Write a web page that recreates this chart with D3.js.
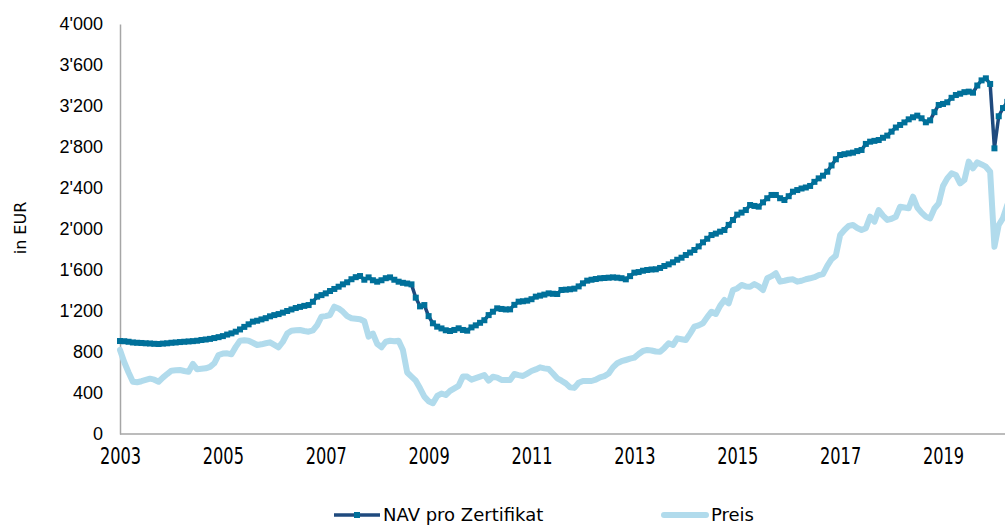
<!DOCTYPE html>
<html>
<head>
<meta charset="utf-8">
<script src="https://cdn.jsdelivr.net/npm/d3@7"></script>
<style>
    body { margin: 0; background: #fff; }
    svg { display: block; font-family: "DejaVu Sans", sans-serif; }
</style>
</head>
<body>
<div id="chart"></div>
<script>
// monthly values, first point = start of 2003
var tickYears = ['2003', '2005', '2007', '2009', '2011', '2013', '2015', '2017', '2019'];
var yTicks = [0, 400, 800, 1200, 1600, 2000, 2400, 2800, 3200, 3600, 4000];

var navValues = [
    907, 905, 900, 893, 890, 888, 885, 883, 880, 878, 882, 885,
    890, 893, 897, 900, 903, 906, 910, 917, 922, 928, 936, 945,
    955, 970, 982, 998, 1020, 1045, 1070, 1096, 1105, 1118, 1130, 1148,
    1160, 1170, 1184, 1200, 1215, 1229, 1240, 1250, 1258, 1290, 1340, 1355,
    1372, 1395, 1415, 1437, 1460, 1480, 1510, 1530, 1541, 1505, 1528, 1500,
    1486, 1500, 1520, 1528, 1505, 1486, 1475, 1468, 1460, 1330, 1245, 1258,
    1150, 1080, 1047, 1030, 1012, 1005, 1015, 1031, 1015, 1008, 1040, 1060,
    1085, 1110, 1160, 1193, 1226, 1220, 1215, 1216, 1260, 1291, 1295, 1301,
    1315, 1340, 1350, 1360, 1372, 1368, 1366, 1405, 1408, 1412, 1418, 1440,
    1470, 1496, 1505, 1512, 1519, 1522, 1525, 1528, 1525, 1520, 1509, 1540,
    1574, 1580, 1593, 1600, 1605, 1607, 1620, 1639, 1655, 1675, 1700, 1720,
    1746, 1770, 1795, 1830, 1870, 1905, 1941, 1955, 1974, 1990, 2040, 2088,
    2140, 2160, 2185, 2234, 2225, 2218, 2260, 2300, 2332, 2332, 2300, 2283,
    2320, 2364, 2380, 2395, 2405, 2420, 2460, 2494, 2520, 2559, 2620, 2680,
    2722, 2730, 2738, 2745, 2760, 2771, 2830, 2852, 2860, 2868, 2890, 2911,
    2950, 2990, 3015, 3040, 3070, 3090, 3106, 3080, 3041, 3060, 3140, 3210,
    3220, 3236, 3280, 3307, 3320, 3335, 3340, 3330, 3400, 3450, 3470, 3415,
    2787, 3100, 3180, 3240
];

var preisValues = [
    820, 700, 600, 510, 505, 515, 527, 540, 530, 510, 550, 585,
    618, 622, 624, 615, 608, 683, 631, 636, 641, 655, 690, 771,
    785, 787, 778, 850, 910, 915, 910, 890, 868, 875, 885, 894,
    870, 846, 900, 980, 1008, 1012, 1015, 1005, 998, 1010, 1063, 1144,
    1150, 1161, 1242, 1225, 1193, 1150, 1129, 1125, 1120, 1100, 950, 980,
    880, 846, 900, 910, 905, 910, 820, 600, 560, 520, 446, 365,
    320, 300, 371, 395, 380, 420, 445, 470, 560, 560, 530, 545,
    560, 576, 520, 559, 550, 527, 527, 527, 585, 575, 566, 590,
    615, 630, 650, 640, 634, 590, 543, 520, 494, 455, 450, 500,
    517, 517, 517, 530, 553, 565, 590, 650, 690, 710, 722, 735,
    745, 780, 810, 820, 815, 805, 803, 840, 885, 868, 933, 925,
    917, 980, 1047, 1060, 1080, 1140, 1193, 1171, 1250, 1307, 1275, 1405,
    1420, 1454, 1440, 1437, 1463, 1440, 1405, 1519, 1540, 1568, 1486, 1495,
    1505, 1509, 1486, 1495, 1510, 1519, 1530, 1550, 1560, 1640, 1705, 1740,
    1941, 1990, 2030, 2039, 2010, 1990, 2007, 2120, 2072, 2185, 2130, 2088,
    2100, 2120, 2218, 2210, 2202, 2315, 2210, 2160, 2120, 2104, 2200, 2250,
    2420, 2494, 2543, 2527, 2445, 2478, 2657, 2592, 2650, 2630, 2608, 2559,
    1827, 2039, 2107, 2234
];

var navLineColor = '#1f4a7e',
    navMarkColor = '#00709a',
    preisColor = '#b1dbec',
    axisColor = '#a6a6a6';

var width = 1005,
    height = 526,
    svg = d3.select('#chart')
        .append('svg')
        .attr('width', width)
        .attr('height', height);

// one category per month, labels every 24 months
var x = d3.scaleLinear()
    .domain([0, 192])
    .range([120, 943]);

var y = d3.scaleLinear()
    .domain([0, 4000])
    .range([434, 24]);

var fmt = d3.formatLocale({decimal: '.', thousands: "'", grouping: [3], currency: ['', '']}).format(',');

// y axis
var yAxis = svg.append('g')
    .attr('transform', 'translate(120,0)')
    .call(d3.axisLeft(y).tickValues(yTicks).tickFormat(fmt).tickSize(0).tickPadding(17));
yAxis.select('.domain').attr('stroke', axisColor).attr('stroke-width', 1.5);
yAxis.selectAll('text').attr('font-size', 18).attr('fill', '#000').attr('font-family', null);

// x axis (narrow, tall labels)
var xAxis = svg.append('g')
    .attr('transform', 'translate(0,434)')
    .call(d3.axisBottom(x)
        .tickValues(tickYears.map(function (d, i) { return i * 24; }))
        .tickFormat(function (d, i) { return tickYears[i]; })
        .tickSize(0));
xAxis.select('.domain')
    .attr('d', 'M120,0H' + width)
    .attr('stroke', axisColor).attr('stroke-width', 1.5);
xAxis.selectAll('.tick text')
    .attr('y', 0).attr('dy', 0)
    .attr('transform', 'translate(0,30) scale(1,1.3)')
    .attr('font-size', 18).attr('fill', '#000')
    .attr('font-family', '"DejaVu Sans Condensed", "DejaVu Sans", sans-serif');

// axis title
svg.append('text')
    .attr('transform', 'translate(26,228) rotate(-90)')
    .attr('text-anchor', 'middle')
    .attr('font-size', 16)
    .text('in EUR');

var line = d3.line()
    .x(function (d, i) { return x(i); })
    .y(function (d) { return y(d); });

// Preis
svg.append('path')
    .datum(preisValues)
    .attr('fill', 'none')
    .attr('stroke', preisColor)
    .attr('stroke-width', 6)
    .attr('stroke-linejoin', 'round')
    .attr('stroke-linecap', 'round')
    .attr('d', line);

// NAV with square markers
svg.append('path')
    .datum(navValues)
    .attr('fill', 'none')
    .attr('stroke', navLineColor)
    .attr('stroke-width', 3.5)
    .attr('d', line);

svg.append('g')
    .selectAll('rect')
    .data(navValues)
    .enter()
    .append('rect')
    .attr('x', function (d, i) { return x(i) - 3; })
    .attr('y', function (d) { return y(d) - 3; })
    .attr('width', 6)
    .attr('height', 6)
    .attr('fill', navMarkColor);

// legend
var legend = svg.append('g');
legend.append('line')
    .attr('x1', 334).attr('x2', 380).attr('y1', 515).attr('y2', 515)
    .attr('stroke', navLineColor).attr('stroke-width', 3.5);
legend.append('rect')
    .attr('x', 354).attr('y', 512).attr('width', 6).attr('height', 6)
    .attr('fill', navMarkColor);
legend.append('text')
    .attr('x', 383).attr('y', 521)
    .attr('font-size', 18)
    .text('NAV pro Zertifikat');

legend.append('line')
    .attr('x1', 664).attr('x2', 706).attr('y1', 515).attr('y2', 515)
    .attr('stroke', preisColor).attr('stroke-width', 6).attr('stroke-linecap', 'round');
legend.append('text')
    .attr('x', 711).attr('y', 521)
    .attr('font-size', 18)
    .text('Preis');
</script>
</body>
</html>
